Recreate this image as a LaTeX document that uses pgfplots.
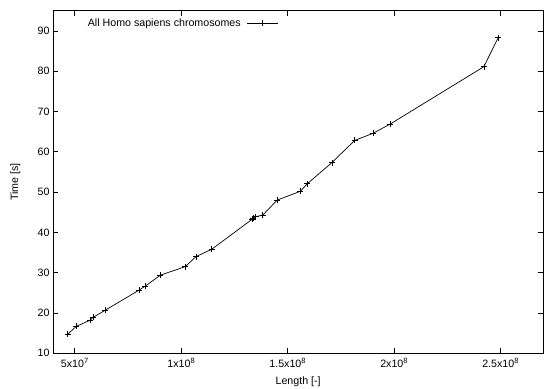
\documentclass[border=0pt]{standalone}
\usepackage{pgfplots}
\pgfplotsset{compat=1.18}
\usepackage{fontspec}
\setmainfont{Liberation Sans}
\newcommand{\supe}[1]{\raisebox{4.2bp}{\fontsize{7.6}{8}\selectfont #1}}
\begin{document}
\fontsize{10.7}{12}\selectfont
\begin{tikzpicture}[x=1bp,y=1bp]
\path[use as bounding box] (0,0) rectangle (544,388);
\begin{axis}[
  at={(53.3bp,34.7bp)}, anchor=south west,
  scale only axis, width=489.7bp, height=342.6bp,
  xmin=4e7, xmax=2.7e8, ymin=10, ymax=95,
  xtick={5e7,1e8,1.5e8,2e8,2.5e8},
  xticklabels={5x10\supe{7},1x10\supe{8},1.5x10\supe{8},2x10\supe{8},2.5x10\supe{8}},
  ytick={10,20,...,90},
  scaled x ticks=false,
  tick align=inside, major tick length=5bp,
  axis line style={line width=0.8bp},
  tick style={line width=0.6bp, black},
  /pgf/number format/assume math mode=true,
  ticklabel style={font=\fontsize{10.7}{12}\selectfont},
  xticklabel style={yshift=-1bp},
  xlabel={Length [-]}, ylabel={Time [s]},
  label style={font=\fontsize{10.7}{12}\selectfont},
  xlabel style={yshift=-2bp},
  ylabel style={yshift=10bp},
  legend plot pos=right,
  legend style={draw=none, fill=none, at={(rel axis cs:0.06,0.99)}, anchor=north west,
    font=\fontsize{10.7}{12}\selectfont, cells={anchor=east}},
  legend image code/.code={\draw[mark repeat=2,mark phase=2,#1] plot coordinates {(0bp,0bp) (15.5bp,0bp) (31bp,0bp)};},
]
\addplot[black, line width=0.7bp, mark=+, mark size=3bp, mark options={line width=0.6bp}] coordinates {
(46.71e6,14.7)
(50.82e6,16.7)
(57.23e6,18.2)
(58.62e6,18.9)
(64.44e6,20.7)
(80.37e6,25.7)
(83.26e6,26.7)
(90.34e6,29.4)
(101.99e6,31.5)
(107.04e6,34.0)
(114.36e6,35.8)
(133.28e6,43.2)
(133.80e6,43.5)
(135.09e6,43.9)
(138.39e6,44.3)
(145.14e6,48.0)
(156.04e6,50.2)
(159.35e6,52.1)
(170.81e6,57.3)
(181.54e6,62.8)
(190.21e6,64.6)
(198.30e6,66.9)
(242.19e6,81.1)
(248.96e6,88.3)
};
\addlegendentry{All Homo sapiens chromosomes\rule{4bp}{0pt}}
\end{axis}
\end{tikzpicture}
\end{document}
